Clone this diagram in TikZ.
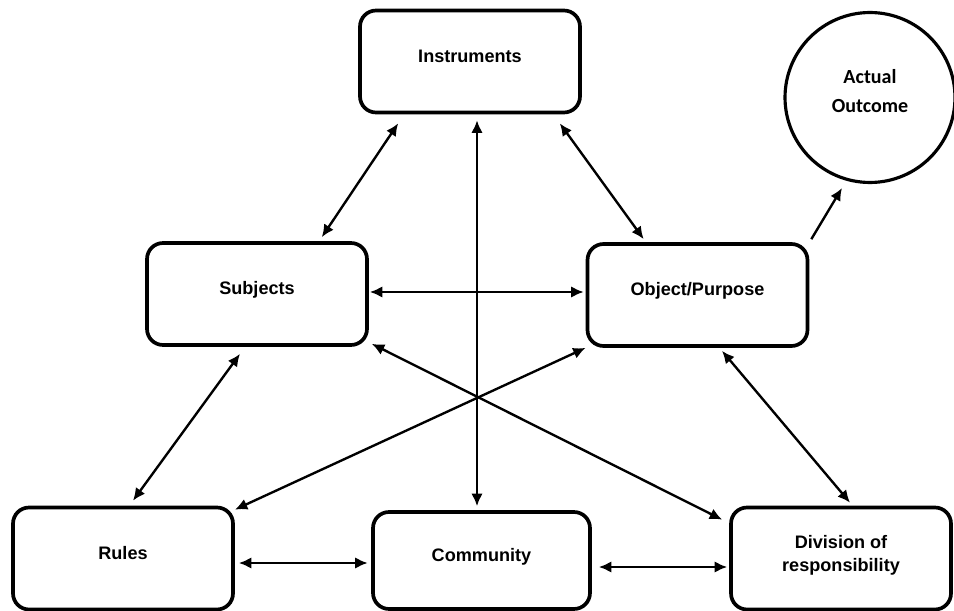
\documentclass[tikz,border=0pt]{standalone}
\usepackage{fontspec}
\setmainfont{Liberation Sans}
\newfontfamily\outcomefont{Carlito}
\usetikzlibrary{shapes, arrows.meta, positioning, calc}

\begin{document}
\begin{tikzpicture}[x=0.02cm, y=-0.02cm,
            stagebox/.style={draw, line width=2.1pt, rounded corners=0.32cm, minimum width=4.4cm, minimum height=2.04cm,
                font=\fontsize{10.3}{13}\selectfont\bfseries, align=center, text height=8pt, text depth=7pt},
            outcome/.style={draw, circle, line width=1.8pt, minimum size=3.4cm,
                font=\outcomefont\fontsize{11.4}{16}\selectfont\bfseries, align=center, text height=24pt, text depth=7.4pt},
            link/.style={line width=1.35pt, {Latex[length=0.25cm,width=0.23cm]}-{Latex[length=0.25cm,width=0.23cm]}},
            onelink/.style={line width=1.35pt, -{Latex[length=0.25cm,width=0.23cm]}}]
            \useasboundingbox (0,0) rectangle (954,611);
            \node[stagebox] (inst) at (470,61.5) {Instruments};
            \node[stagebox] (subj) at (257,294) {Subjects};
            \node[stagebox] (obj) at (697.5,295) {Object/Purpose};
            \node[stagebox] (rules) at (123,558.5) {Rules};
            \node[stagebox, minimum width=4.34cm, minimum height=1.94cm] (comm) at (481.5,560.5) {Community};
            \node[stagebox, text height=21pt, text depth=6.2pt] (div) at (841,558.5) {Division of\\responsibility};
            \node[outcome] (out) at (870,97.5) {Actual\\Outcome};
            % links between the six parts
            \draw[link] ($(inst.south west)+(40,9)$) -- ($(subj.north east)+(-47,-4)$);
            \draw[link] ($(inst.south east)+(-22,9)$) -- ($(obj.north west)+(58,-3)$);
            \draw[link] ($(inst.south)+(7,6)$) -- ($(comm.north)+(-4.5,-4)$);
            \draw[link] ($(subj.east)+(1,-2)$) -- ($(obj.west)+(-2,-3)$);
            \draw[link] ($(subj.south east)+(3,-3)$) -- ($(div.north west)+(-7,14)$);
            \draw[link] (obj.south west) -- ($(rules.north east)+(0,4)$);
            \draw[link] ($(subj.south)+(-17,7)$) -- ($(rules.north)+(10,-5)$);
            \draw[link] ($(obj.south)+(24.5,3)$) -- ($(div.north)+(9,-3)$);
            \draw[link] ($(rules.east)+(4,4.5)$) -- ($(comm.west)+(-3.5,2.5)$);
            \draw[link] ($(comm.east)+(7,6.5)$) -- ($(div.west)+(-2,8.5)$);
            \draw[onelink] ($(obj.north east)+(2,-3)$) -- ($(out.center)+(-28,90.5)$);
        \end{tikzpicture}
\end{document}
